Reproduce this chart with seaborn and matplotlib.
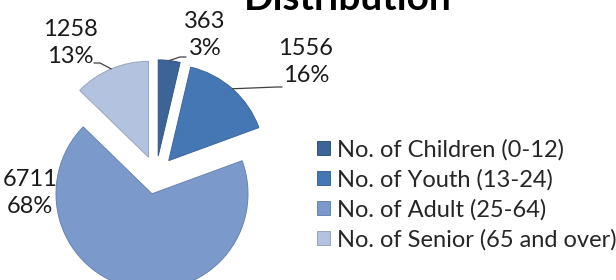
import matplotlib
matplotlib.use("Agg")
import matplotlib.pyplot as plt
import seaborn as sns
import numpy as np
import matplotlib.colors as mcolors

categories = ["No. of Children (0-12)", "No. of Youth (13-24)",
              "No. of Adult (25-64)", "No. of Senior (65 and over)"]
values = [363, 1556, 6711, 1258]
percents = [3, 16, 68, 13]
colors = ["#3C6496", "#4677B5", "#7B9ACB", "#B2C2DF"]
title = "Distribution"

sns.set_theme(style="white")
plt.rcParams["font.family"] = ["Lato", "DejaVu Sans"]

W, H = 616, 280
fig = plt.figure(figsize=(W / 100, H / 100), dpi=100)
ax = fig.add_axes([0, 0, 1, 1])

# pixel scale: unit radius = 96 px, pie centre at (156, 175) px
S = 96.0
CX, CY = 156.0, 175.0
def px(x, y):
    return (x - CX) / S, (CY - y) / S

explode = [0.2] * len(values)
edges = [tuple(np.array(mcolors.to_rgb(c)) * 0.85) for c in colors]
wedges, _ = ax.pie(values, colors=colors, explode=explode, startangle=90,
                   counterclock=False, radius=1.0, center=(0, 0),
                   wedgeprops=dict(linewidth=0.7))
for w, e in zip(wedges, edges):
    w.set_edgecolor(e)

ax.set_xlim((0 - CX) / S, (W - CX) / S)
ax.set_ylim((CY - H) / S, (CY - 0) / S)
ax.set_aspect("equal", adjustable="box")
ax.axis("off")

label_pos = [px(205, 35), px(306, 62), px(30, 193), px(70, 43)]
elbows = [(px(180, 57), px(186, 57)), (px(277, 87), px(282, 87)), None,
          (px(100, 63), px(94, 63))]
fs = 17
for i, w in enumerate(wedges):
    lx, ly = label_pos[i]
    ax.text(lx, ly, f"{values[i]}\n{percents[i]}%", ha="center", va="center",
            fontsize=fs, color="#1a1a1a", linespacing=1.3)
    if elbows[i] is not None:
        mid = np.deg2rad((w.theta1 + w.theta2) / 2)
        cx0, cy0 = w.center
        ax0, ay0 = cx0 + w.r * np.cos(mid), cy0 + w.r * np.sin(mid)
        (ex, ey), (tx, ty) = elbows[i]
        ax.plot([ax0, ex, tx], [ay0, ey, ty], color="#404040", lw=0.9)

fig.legend(wedges, categories, loc="upper left",
           bbox_to_anchor=(317 / W, 1 - 139 / H), frameon=False,
           fontsize=fs, handlelength=0.55, handleheight=0.55,
           handletextpad=0.3, labelspacing=0.36, borderpad=0,
           borderaxespad=0)

fig.text(348 / W, 1 - 10 / H, title, ha="center", va="baseline",
         fontsize=28, fontweight="bold", color="black")

fig.savefig("out.png", dpi=100)
